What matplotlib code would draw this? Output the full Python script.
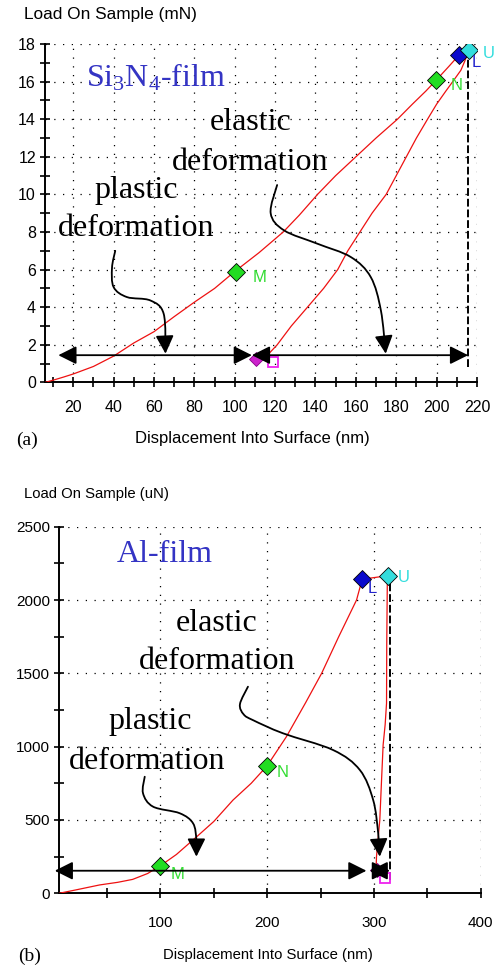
import numpy as np
import matplotlib
matplotlib.use("Agg")
import matplotlib.pyplot as plt
from matplotlib.path import Path
from matplotlib.patches import FancyArrowPatch

plt.rcParams['font.family'] = ['Liberation Sans', 'DejaVu Sans']
plt.rcParams['mathtext.fontset'] = 'custom'
plt.rcParams['mathtext.rm'] = 'Liberation Serif'
plt.rcParams['mathtext.it'] = 'Liberation Serif:italic'

# ---- (a) Si3N4 film, load in mN ----
a_load_x = [6, 10, 15, 20, 30, 40, 50, 60, 70, 80, 90, 100, 112, 124, 132, 141, 150, 160, 170,
            180.6, 188, 194.7, 200, 206, 211, 216]
a_load_y = [0, 0.12, 0.28, 0.45, 0.85, 1.4, 2.1, 2.7, 3.5, 4.27, 5.0, 5.9, 6.9, 8.0, 8.9, 10.0,
            11.0, 12.0, 13.0, 14.0, 14.8, 15.5, 16.1, 16.8, 17.4, 17.7]
a_unload_x = [216, 214, 212, 208, 204.6, 200, 195.5, 190, 185, 180, 175, 168, 162, 156, 151, 144,
              136, 128, 121, 117.5]
a_unload_y = [17.7, 17.1, 16.6, 16.0, 15.5, 14.8, 14.0, 13.0, 12.0, 11.0, 10.0, 9.0, 8.0, 7.0, 6.0,
              5.0, 4.0, 3.0, 2.0, 1.6]
a_pts = {'M': (100.4, 5.9), 'N': (199.6, 16.1), 'L': (211, 17.4), 'U': (216.2, 17.7)}
a_end_diamond = (110.3, 1.27)
a_end_square = (119, 1.08)
a_arrow_y = 1.45
a_arrow_x = [12.6, 108.5, 215.6]
a_dash_x = 215.6
a_dash_y = [0.8, 17.6]
a_plastic_path = [(40.8, 7.0), (39.2, 6.1), (40.0, 5.07), (46.6, 4.54), (58.2, 4.36), (64.8, 3.65), (65.7, 1.53)]
a_elastic_path = [(121, 10.5), (117.8, 9.0), (124.4, 8.09), (140.9, 7.38), (157.5, 6.67),
                  (167.4, 5.6), (172.4, 3.83), (174.8, 1.53)]

# ---- (b) Al film, load in uN ----
b_load_x = [5, 20, 43, 60, 74, 88, 100, 115, 134, 150, 168, 185, 200, 218, 236, 251, 267, 283.7,
            289, 313]
b_load_y = [0, 22, 57, 75, 95, 135, 188, 265, 386, 490, 636, 750, 870, 1068, 1300, 1500, 1750,
            2000, 2142, 2166]
b_unload_x = [313, 312.5, 312, 311.8, 310.5, 308.6, 307, 305.5, 303, 302.4, 302]
b_unload_y = [2166, 2100, 1700, 1296, 1150, 1011, 750, 500, 300, 250, 170]
b_pts = {'M': (100, 188), 'N': (200, 870), 'L': (289, 2142), 'U': (313.3, 2166)}
b_end_diamond = (302.5, 160)
b_end_square = (310, 102)
b_arrow_y = 154
b_arrow_x = [1, 293, 296, 315]
b_dash_x = 315
b_dash_y = [90, 2130]
b_plastic_path = [(85.3, 795), (83.7, 682), (93.1, 591), (118.1, 546), (130.6, 477), (133.7, 363), (133.7, 250)]
b_elastic_path = [(182, 1409), (174.5, 1290), (178, 1220), (187, 1180), (214.9, 1091), (261.8, 977),
                  (286.8, 841), (299.3, 636), (304, 409), (305.5, 250)]

mk_colors = {'M': '#22dd22', 'N': '#22dd22', 'L': '#0a0acc', 'U': '#33dddd'}
lbl_colors = {'M': '#33dd33', 'N': '#33dd33', 'L': '#2222cc', 'U': '#33dddd'}


def smooth_path(pts):
    pts = np.asarray(pts, float)
    n = len(pts)
    verts = [pts[0]]
    codes = [Path.MOVETO]
    for i in range(n - 1):
        p0 = pts[max(i - 1, 0)]
        p1 = pts[i]
        p2 = pts[i + 1]
        p3 = pts[min(i + 2, n - 1)]
        verts += [p1 + (p2 - p0) / 6, p2 - (p3 - p1) / 6, p2]
        codes += [Path.CURVE4] * 3
    return Path(verts, codes)


head = '-|>,head_length=1.1,head_width=0.55'
head2 = '<|-|>,head_length=1.1,head_width=0.55'


def style_axes(ax):
    for s in ['top', 'right']:
        ax.spines[s].set_visible(False)
    for s in ['left', 'bottom']:
        ax.spines[s].set_linewidth(1.4)
    ax.tick_params(which='both', direction='inout', length=7, width=1.2, labelsize=11.5)
    ax.grid(True, which='major', color='black', linestyle=(0, (1, 6)), linewidth=0.9)


def draw_panel(ax, load_x, load_y, unload_x, unload_y, pts, offs, end_d, end_s,
               arr_y, arr_x, dash_x, dash_y, ppath, epath, txt):
    ax.plot(load_x, load_y, color='#ee1111', lw=0.9, zorder=3)
    ax.plot(unload_x, unload_y, color='#ee1111', lw=0.9, zorder=3)
    ax.plot([dash_x, dash_x], dash_y, color='black', lw=1.4, ls=(0, (4, 1.5)), zorder=2)
    for k, (x, y) in pts.items():
        ax.plot(x, y, marker='D', ms=9, color=mk_colors[k], mec='black', mew=0.6, zorder=5)
        ax.annotate(k, (x, y), xytext=offs[k], textcoords='offset points', color=lbl_colors[k],
                    fontsize=12, ha='left', va='center', zorder=6)
    ax.plot(*end_d, marker='D', ms=7, color='#cc22cc', mec='#880088', mew=0.6, zorder=5)
    ax.plot(*end_s, marker='s', ms=7, mfc='none', mec='#ee22ee', mew=1.3, zorder=5)
    for i in range(len(arr_x) - 1):
        if i % 2 == 1 and len(arr_x) > 3:
            continue
        ax.annotate('', xy=(arr_x[i + 1], arr_y), xytext=(arr_x[i], arr_y), annotation_clip=False,
                    arrowprops=dict(arrowstyle=head2, mutation_scale=10, lw=1.3, color='black',
                                    shrinkA=0, shrinkB=0), zorder=6)
    for p in [ppath, epath]:
        ax.add_patch(FancyArrowPatch(path=smooth_path(p), arrowstyle=head, mutation_scale=10,
                                     lw=1.3, color='black', transform=ax.transData, zorder=6))
    for s, (x, y), c in txt:
        ax.text(x, y, s, ha='center', va='center', fontsize=23, color=c,
                family=['Liberation Serif', 'DejaVu Serif'], zorder=4)


fig = plt.figure(figsize=(4.95, 9.67), dpi=100)

# ---- top panel ----
ax1 = fig.add_axes([0.0909, 0.6045, 0.8727, 0.35])
ax1.set_xlim(6, 220)
ax1.set_ylim(0, 18)
ax1.set_xticks(np.arange(20, 221, 20))
ax1.set_xticks(np.arange(10, 221, 10), minor=True)
ax1.set_yticks(np.arange(0, 19, 2))
ax1.set_yticks(np.arange(0, 19, 1), minor=True)
style_axes(ax1)
ax1.tick_params(axis='x', which='both', pad=9)
ax1.tick_params(axis='y', which='both', pad=3)
draw_panel(ax1, a_load_x, a_load_y, a_unload_x, a_unload_y, a_pts,
           {'M': (12, -4), 'N': (11, -4), 'L': (9, -5), 'U': (10, -3)},
           a_end_diamond, a_end_square, a_arrow_y, a_arrow_x, a_dash_x, a_dash_y,
           a_plastic_path, a_elastic_path,
           [(r'Si$_{\mathrm{3}}$N$_{\mathrm{4}}$-film', (60.7, 16.2), '#3434c4'),
            ('elastic', (107.8, 13.8), 'black'), ('deformation', (107.8, 11.7), 'black'),
            ('plastic', (51.3, 10.2), 'black'), ('deformation', (51.3, 8.2), 'black')])

fig.text(24 / 495, 1 - 14 / 967, 'Load On Sample (mN)', fontsize=12.4, ha='left', va='center')
fig.text(252 / 495, 1 - 439 / 967, 'Displacement Into Surface (nm)', fontsize=12, ha='center', va='center')
fig.text(27 / 495, 1 - 440 / 967, '(a)', fontsize=14, ha='center', va='center',
         family=['Liberation Serif', 'DejaVu Serif'])

# ---- bottom panel ----
ax2 = fig.add_axes([0.1192, 0.0762, 0.8519, 0.3791])
ax2.set_xlim(5, 400)
ax2.set_ylim(0, 2500)
ax2.set_xticks([100, 200, 300, 400])
ax2.set_xticks(np.arange(50, 401, 50), minor=True)
ax2.set_yticks(np.arange(0, 2501, 500))
ax2.set_yticks(np.arange(0, 2501, 250), minor=True)
style_axes(ax2)
ax2.tick_params(axis='x', which='both', pad=13, labelsize=11)
ax2.tick_params(axis='y', which='both', pad=3, labelsize=11)
draw_panel(ax2, b_load_x, b_load_y, b_unload_x, b_unload_y, b_pts,
           {'M': (7, -6), 'N': (7, -5), 'L': (4, -7), 'U': (7, -1)},
           b_end_diamond, b_end_square, b_arrow_y, b_arrow_x, b_dash_x, b_dash_y,
           b_plastic_path, b_elastic_path,
           [('Al-film', (103.6, 2308), '#3434c4'),
            ('elastic', (152.7, 1843), 'black'), ('deformation', (152.7, 1580), 'black'),
            ('plastic', (90, 1170), 'black'), ('deformation', (88, 898), 'black')])

fig.text(24 / 495, 1 - 494 / 967, 'Load On Sample (uN)', fontsize=10.7, ha='left', va='center')
fig.text(268 / 495, 1 - 955 / 967, 'Displacement Into Surface (nm)', fontsize=10.7, ha='center', va='center')
fig.text(30 / 495, 1 - 956 / 967, '(b)', fontsize=14, ha='center', va='center',
         family=['Liberation Serif', 'DejaVu Serif'])

fig.savefig('out.png', dpi=100)
